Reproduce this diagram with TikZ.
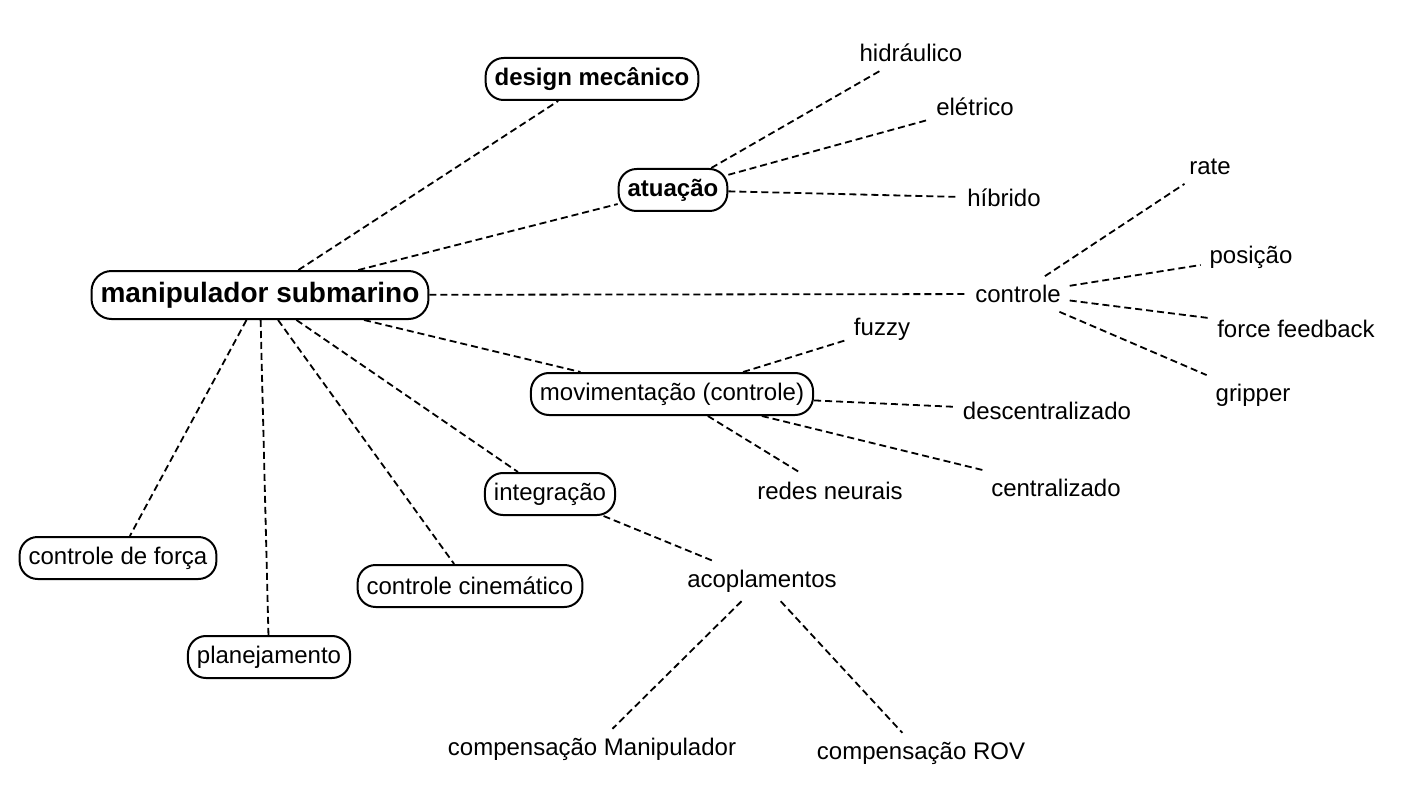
\documentclass[tikz,border=0pt]{standalone}
\usepackage{fontspec}
\setmainfont{Liberation Sans}
\begin{document}
\begin{tikzpicture}[x=0.5pt,y=-0.5pt,
  box/.style={draw, rounded corners=9pt, line width=1pt, inner xsep=4.5pt, minimum height=21pt, font=\fontsize{12}{14}\selectfont},
  bbox/.style={box, font=\fontsize{12}{14}\selectfont\bfseries},
  mainbox/.style={box, minimum height=24pt, rounded corners=10pt, font=\fontsize{14}{16}\selectfont\bfseries},
  leaf/.style={inner sep=2pt, outer sep=2.5pt, font=\fontsize{12}{14}\selectfont},
  link/.style={dash pattern=on 3.5pt off 2pt, line width=0.9pt}]
\useasboundingbox (0,0) rectangle (1404,808);

\node[mainbox] (main) at (260,295) {manipulador submarino};
\node[bbox] (design) at (592,79) {design mecânico};
\node[bbox] (atua) at (673,190) {atuação};
\node[leaf] (hidr) at (911,53) {hidráulico};
\node[leaf] (elet) at (975,107) {elétrico};
\node[leaf] (hibr) at (1004,198) {híbrido};
\node[leaf] (ctrl) at (1018,294) {controle};
\node[leaf] (rate) at (1210,167) {rate};
\node[leaf] (pos) at (1251,257) {posição};
\node[leaf] (ff) at (1296,329) {force feedback};
\node[leaf] (grip) at (1253,395) {gripper};
\node[box] (movi) at (672,394) {movimentação (controle)};
\node[leaf] (fuzzy) at (882,329) {fuzzy};
\node[leaf] (desc) at (1047,411) {descentralizado};
\node[leaf] (redes) at (830,491) {redes neurais};
\node[leaf] (cent) at (1056,488) {centralizado};
\node[box] (integ) at (550,494) {integração};
\node[leaf] (acop) at (762,581) {acoplamentos};
\node[leaf] (cman) at (592,749) {compensação Manipulador};
\node[leaf] (crov) at (921,753) {compensação ROV};
\node[box] (cforca) at (118,558) {controle de força};
\node[box] (plan) at (269,657) {planejamento};
\node[box] (ccin) at (470,586) {controle cinemático};

\draw[link] (main) -- (design);
\draw[link] (main) -- (atua);
\draw[link] (main) -- (ctrl);
\draw[link] (main) -- (movi);
\draw[link] (main) -- (integ);
\draw[link] (main) -- (ccin);
\draw[link] (main) -- (plan);
\draw[link] (main) -- (cforca);
\draw[link] (atua) -- (hidr);
\draw[link] (atua) -- (elet);
\draw[link] (atua) -- (hibr);
\draw[link] (ctrl) -- (rate);
\draw[link] (ctrl) -- (pos);
\draw[link] (ctrl) -- (ff);
\draw[link] (ctrl) -- (grip);
\draw[link] (movi) -- (fuzzy);
\draw[link] (movi) -- (desc);
\draw[link] (movi) -- (redes);
\draw[link] (movi) -- (cent);
\draw[link] (integ) -- (acop);
\draw[link] (acop) -- (cman);
\draw[link] (acop) -- (crov);
\end{tikzpicture}
\end{document}
